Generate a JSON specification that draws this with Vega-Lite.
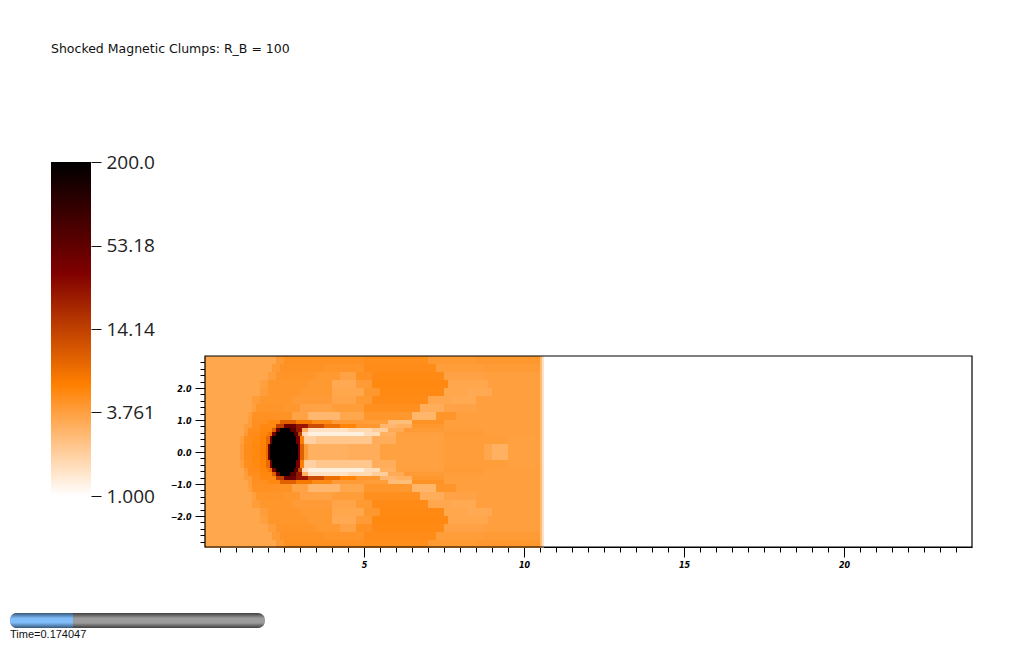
{"$schema":"https://vega.github.io/schema/vega-lite/v6.json","width":1024,"height":645,"padding":0,"autosize":{"type":"none"},"background":"white","config":{"view":{"stroke":null}},
"title":{"text":"Shocked Magnetic Clumps: R_B = 100","anchor":"start","frame":"group","orient":"top","offset":0,"baseline":"middle","dx":51,"dy":61,"font":"DejaVu Sans","fontSize":12.5,"fontWeight":"normal","color":"#111"},
"datasets":{"cells":[
{"x":0.03125,"x2":1.125,"y":0,"y2":0.25,"v":3.4},{"x":1.125,"x2":1.25,"y":0,"y2":0.25,"v":4},{"x":1.25,"x2":1.5,"y":0,"y2":0.25,"v":4.9},{"x":1.5,"x2":1.75,"y":0,"y2":0.25,"v":5.2},{"x":1.75,"x2":1.9375,"y":0,"y2":0.25,"v":5.7},{"x":1.9375,"x2":2,"y":0,"y2":0.25,"v":8},{"x":2,"x2":2.0625,"y":0,"y2":0.25,"v":40},{"x":2.0625,"x2":2.9375,"y":0,"y2":0.25,"v":200},{"x":2.9375,"x2":3,"y":0,"y2":0.25,"v":40},{"x":3,"x2":3.125,"y":0,"y2":0.25,"v":9},{"x":3.125,"x2":3.25,"y":0,"y2":0.25,"v":4},{"x":3.25,"x2":4.5,"y":0,"y2":0.25,"v":3},{"x":4.5,"x2":5.5,"y":0,"y2":0.25,"v":3.1},{"x":5.5,"x2":7.5,"y":0,"y2":0.25,"v":3.7},{"x":7.5,"x2":8.75,"y":0,"y2":0.25,"v":3.9},{"x":8.75,"x2":9,"y":0,"y2":0.25,"v":3.4},{"x":9,"x2":9.5,"y":0,"y2":0.25,"v":3},{"x":9.5,"x2":10.5,"y":0,"y2":0.25,"v":3.7},{"x":10.5,"x2":10.5625,"y":0,"y2":0.25,"v":2.6},{"x":10.5625,"x2":10.625,"y":0,"y2":0.25,"v":1.5},
{"x":0.03125,"x2":1.125,"y":0.25,"y2":0.5,"v":3.4},{"x":1.125,"x2":1.25,"y":0.25,"y2":0.5,"v":3.8},{"x":1.25,"x2":1.5,"y":0.25,"y2":0.5,"v":4.8},{"x":1.5,"x2":1.75,"y":0.25,"y2":0.5,"v":5.1},{"x":1.75,"x2":1.9375,"y":0.25,"y2":0.5,"v":5.6},{"x":1.9375,"x2":2.0625,"y":0.25,"y2":0.5,"v":8},{"x":2.0625,"x2":2.125,"y":0.25,"y2":0.5,"v":40},{"x":2.125,"x2":2.875,"y":0.25,"y2":0.5,"v":200},{"x":2.875,"x2":3,"y":0.25,"y2":0.5,"v":40},{"x":3,"x2":3.125,"y":0.25,"y2":0.5,"v":6},{"x":3.125,"x2":3.5,"y":0.25,"y2":0.5,"v":1.9},{"x":3.5,"x2":5.25,"y":0.25,"y2":0.5,"v":2.2},{"x":5.25,"x2":6,"y":0.25,"y2":0.5,"v":3.1},{"x":6,"x2":7.5,"y":0.25,"y2":0.5,"v":3.7},{"x":7.5,"x2":9.5,"y":0.25,"y2":0.5,"v":3.9},{"x":9.5,"x2":10.5,"y":0.25,"y2":0.5,"v":3.7},{"x":10.5,"x2":10.5625,"y":0.25,"y2":0.5,"v":2.6},{"x":10.5625,"x2":10.625,"y":0.25,"y2":0.5,"v":1.5},
{"x":0.03125,"x2":1.25,"y":0.5,"y2":0.625,"v":3.4},{"x":1.25,"x2":1.375,"y":0.5,"y2":0.625,"v":4},{"x":1.375,"x2":1.75,"y":0.5,"y2":0.625,"v":4.9},{"x":1.75,"x2":2,"y":0.5,"y2":0.625,"v":5.4},{"x":2,"x2":2.125,"y":0.5,"y2":0.625,"v":7},{"x":2.125,"x2":2.25,"y":0.5,"y2":0.625,"v":40},{"x":2.25,"x2":2.8125,"y":0.5,"y2":0.625,"v":200},{"x":2.8125,"x2":2.9375,"y":0.5,"y2":0.625,"v":60},{"x":2.9375,"x2":3.0625,"y":0.5,"y2":0.625,"v":14},{"x":3.0625,"x2":3.25,"y":0.5,"y2":0.625,"v":1.6},{"x":3.25,"x2":5,"y":0.5,"y2":0.625,"v":1.25},{"x":5,"x2":5.5,"y":0.5,"y2":0.625,"v":1.6},{"x":5.5,"x2":6,"y":0.5,"y2":0.625,"v":3},{"x":6,"x2":7.5,"y":0.5,"y2":0.625,"v":3.8},{"x":7.5,"x2":8.75,"y":0.5,"y2":0.625,"v":4},{"x":8.75,"x2":10.5,"y":0.5,"y2":0.625,"v":3.8},{"x":10.5,"x2":10.5625,"y":0.5,"y2":0.625,"v":2.6},{"x":10.5625,"x2":10.625,"y":0.5,"y2":0.625,"v":1.5},
{"x":0.03125,"x2":1.25,"y":0.625,"y2":0.75,"v":3.4},{"x":1.25,"x2":1.375,"y":0.625,"y2":0.75,"v":3.9},{"x":1.375,"x2":1.75,"y":0.625,"y2":0.75,"v":4.8},{"x":1.75,"x2":2.125,"y":0.625,"y2":0.75,"v":5.3},{"x":2.125,"x2":2.25,"y":0.625,"y2":0.75,"v":9},{"x":2.25,"x2":2.375,"y":0.625,"y2":0.75,"v":50},{"x":2.375,"x2":2.6875,"y":0.625,"y2":0.75,"v":200},{"x":2.6875,"x2":2.875,"y":0.625,"y2":0.75,"v":60},{"x":2.875,"x2":3.0625,"y":0.625,"y2":0.75,"v":25},{"x":3.0625,"x2":3.25,"y":0.625,"y2":0.75,"v":3},{"x":3.25,"x2":4.5,"y":0.625,"y2":0.75,"v":1.5},{"x":4.5,"x2":5.25,"y":0.625,"y2":0.75,"v":1.7},{"x":5.25,"x2":5.75,"y":0.625,"y2":0.75,"v":2},{"x":5.75,"x2":6.25,"y":0.625,"y2":0.75,"v":3.2},{"x":6.25,"x2":7.5,"y":0.625,"y2":0.75,"v":4},{"x":7.5,"x2":8.75,"y":0.625,"y2":0.75,"v":3.9},{"x":8.75,"x2":10.5,"y":0.625,"y2":0.75,"v":3.8},{"x":10.5,"x2":10.5625,"y":0.625,"y2":0.75,"v":2.6},{"x":10.5625,"x2":10.625,"y":0.625,"y2":0.75,"v":1.5},
{"x":0.03125,"x2":1.25,"y":0.75,"y2":0.875,"v":3.4},{"x":1.25,"x2":1.5,"y":0.75,"y2":0.875,"v":3.9},{"x":1.5,"x2":1.75,"y":0.75,"y2":0.875,"v":4.7},{"x":1.75,"x2":2.25,"y":0.75,"y2":0.875,"v":5.2},{"x":2.25,"x2":2.5,"y":0.75,"y2":0.875,"v":14},{"x":2.5,"x2":2.875,"y":0.75,"y2":0.875,"v":45},{"x":2.875,"x2":3.25,"y":0.75,"y2":0.875,"v":25},{"x":3.25,"x2":3.75,"y":0.75,"y2":0.875,"v":12},{"x":3.75,"x2":4.25,"y":0.75,"y2":0.875,"v":7.5},{"x":4.25,"x2":4.75,"y":0.75,"y2":0.875,"v":5.6},{"x":4.75,"x2":5.5,"y":0.75,"y2":0.875,"v":4.2},{"x":5.5,"x2":6,"y":0.75,"y2":0.875,"v":2.7},{"x":6,"x2":6.5,"y":0.75,"y2":0.875,"v":3},{"x":6.5,"x2":7.5,"y":0.75,"y2":0.875,"v":4.2},{"x":7.5,"x2":10.5,"y":0.75,"y2":0.875,"v":3.8},{"x":10.5,"x2":10.5625,"y":0.75,"y2":0.875,"v":2.6},{"x":10.5625,"x2":10.625,"y":0.75,"y2":0.875,"v":1.5},
{"x":0.03125,"x2":1.375,"y":0.875,"y2":1,"v":3.4},{"x":1.375,"x2":1.5,"y":0.875,"y2":1,"v":3.9},{"x":1.5,"x2":2,"y":0.875,"y2":1,"v":4.7},{"x":2,"x2":2.375,"y":0.875,"y2":1,"v":5.2},{"x":2.375,"x2":2.875,"y":0.875,"y2":1,"v":9},{"x":2.875,"x2":3.375,"y":0.875,"y2":1,"v":6.5},{"x":3.375,"x2":4,"y":0.875,"y2":1,"v":5},{"x":4,"x2":5,"y":0.875,"y2":1,"v":4},{"x":5,"x2":5.75,"y":0.875,"y2":1,"v":3.9},{"x":5.75,"x2":6.5,"y":0.875,"y2":1,"v":2.5},{"x":6.5,"x2":7.5,"y":0.875,"y2":1,"v":4.5},{"x":7.5,"x2":10.5,"y":0.875,"y2":1,"v":3.8},{"x":10.5,"x2":10.5625,"y":0.875,"y2":1,"v":2.6},{"x":10.5625,"x2":10.625,"y":0.875,"y2":1,"v":1.5},
{"x":0.03125,"x2":1.375,"y":1,"y2":1.25,"v":3.4},{"x":1.375,"x2":1.5,"y":1,"y2":1.25,"v":3.8},{"x":1.5,"x2":2.25,"y":1,"y2":1.25,"v":4.6},{"x":2.25,"x2":2.75,"y":1,"y2":1.25,"v":4.5},{"x":2.75,"x2":3.25,"y":1,"y2":1.25,"v":3.6},{"x":3.25,"x2":4.25,"y":1,"y2":1.25,"v":2.7},{"x":4.25,"x2":5,"y":1,"y2":1.25,"v":3.4},{"x":5,"x2":6,"y":1,"y2":1.25,"v":4.3},{"x":6,"x2":6.5,"y":1,"y2":1.25,"v":4.2},{"x":6.5,"x2":7.25,"y":1,"y2":1.25,"v":2.8},{"x":7.25,"x2":7.875,"y":1,"y2":1.25,"v":4.4},{"x":7.875,"x2":10.5,"y":1,"y2":1.25,"v":3.8},{"x":10.5,"x2":10.5625,"y":1,"y2":1.25,"v":2.6},{"x":10.5625,"x2":10.625,"y":1,"y2":1.25,"v":1.5},
{"x":0.03125,"x2":1.5,"y":1.25,"y2":1.5,"v":3.4},{"x":1.5,"x2":1.625,"y":1.25,"y2":1.5,"v":3.8},{"x":1.625,"x2":2.5,"y":1.25,"y2":1.5,"v":4.4},{"x":2.5,"x2":3,"y":1.25,"y2":1.5,"v":4.2},{"x":3,"x2":4,"y":1.25,"y2":1.5,"v":3.6},{"x":4,"x2":5,"y":1.25,"y2":1.5,"v":3.9},{"x":5,"x2":6.75,"y":1.25,"y2":1.5,"v":4.7},{"x":6.75,"x2":7.5,"y":1.25,"y2":1.5,"v":3.1},{"x":7.5,"x2":8.5,"y":1.25,"y2":1.5,"v":3.6},{"x":8.5,"x2":10.5,"y":1.25,"y2":1.5,"v":3.8},{"x":10.5,"x2":10.5625,"y":1.25,"y2":1.5,"v":2.6},{"x":10.5625,"x2":10.625,"y":1.25,"y2":1.5,"v":1.5},
{"x":0.03125,"x2":1.5,"y":1.5,"y2":1.75,"v":3.4},{"x":1.5,"x2":1.75,"y":1.5,"y2":1.75,"v":3.9},{"x":1.75,"x2":2.75,"y":1.5,"y2":1.75,"v":4.3},{"x":2.75,"x2":4,"y":1.5,"y2":1.75,"v":4},{"x":4,"x2":4.75,"y":1.5,"y2":1.75,"v":3.5},{"x":4.75,"x2":5.25,"y":1.5,"y2":1.75,"v":4.1},{"x":5.25,"x2":7,"y":1.5,"y2":1.75,"v":5},{"x":7,"x2":7.75,"y":1.5,"y2":1.75,"v":3.4},{"x":7.75,"x2":8.5,"y":1.5,"y2":1.75,"v":3.3},{"x":8.5,"x2":10.5,"y":1.5,"y2":1.75,"v":3.8},{"x":10.5,"x2":10.5625,"y":1.5,"y2":1.75,"v":2.6},{"x":10.5625,"x2":10.625,"y":1.5,"y2":1.75,"v":1.5},
{"x":0.03125,"x2":1.75,"y":1.75,"y2":2,"v":3.4},{"x":1.75,"x2":2,"y":1.75,"y2":2,"v":3.9},{"x":2,"x2":3,"y":1.75,"y2":2,"v":4.3},{"x":3,"x2":4,"y":1.75,"y2":2,"v":4.1},{"x":4,"x2":5,"y":1.75,"y2":2,"v":3.4},{"x":5,"x2":5.5,"y":1.75,"y2":2,"v":4.2},{"x":5.5,"x2":7.5,"y":1.75,"y2":2,"v":5.1},{"x":7.5,"x2":8.25,"y":1.75,"y2":2,"v":3.4},{"x":8.25,"x2":9,"y":1.75,"y2":2,"v":3.3},{"x":9,"x2":10.5,"y":1.75,"y2":2,"v":3.8},{"x":10.5,"x2":10.5625,"y":1.75,"y2":2,"v":2.6},{"x":10.5625,"x2":10.625,"y":1.75,"y2":2,"v":1.5},
{"x":0.03125,"x2":1.75,"y":2,"y2":2.25,"v":3.4},{"x":1.75,"x2":2,"y":2,"y2":2.25,"v":3.8},{"x":2,"x2":3.25,"y":2,"y2":2.25,"v":4.3},{"x":3.25,"x2":4,"y":2,"y2":2.25,"v":4.1},{"x":4,"x2":4.75,"y":2,"y2":2.25,"v":3.3},{"x":4.75,"x2":5.25,"y":2,"y2":2.25,"v":4},{"x":5.25,"x2":7.625,"y":2,"y2":2.25,"v":5.2},{"x":7.625,"x2":8.875,"y":2,"y2":2.25,"v":3.4},{"x":8.875,"x2":10.5,"y":2,"y2":2.25,"v":3.8},{"x":10.5,"x2":10.5625,"y":2,"y2":2.25,"v":2.6},{"x":10.5625,"x2":10.625,"y":2,"y2":2.25,"v":1.5},
{"x":0.03125,"x2":2,"y":2.25,"y2":2.5,"v":3.4},{"x":2,"x2":2.25,"y":2.25,"y2":2.5,"v":3.9},{"x":2.25,"x2":3.5,"y":2.25,"y2":2.5,"v":4.4},{"x":3.5,"x2":4.25,"y":2.25,"y2":2.5,"v":4.1},{"x":4.25,"x2":4.75,"y":2.25,"y2":2.5,"v":3.6},{"x":4.75,"x2":5.25,"y":2.25,"y2":2.5,"v":4.6},{"x":5.25,"x2":7.5,"y":2.25,"y2":2.5,"v":5.1},{"x":7.5,"x2":8.75,"y":2.25,"y2":2.5,"v":3.6},{"x":8.75,"x2":10.5,"y":2.25,"y2":2.5,"v":3.8},{"x":10.5,"x2":10.5625,"y":2.25,"y2":2.5,"v":2.6},{"x":10.5625,"x2":10.625,"y":2.25,"y2":2.5,"v":1.5},
{"x":0.03125,"x2":2.125,"y":2.5,"y2":2.75,"v":3.4},{"x":2.125,"x2":2.375,"y":2.5,"y2":2.75,"v":4},{"x":2.375,"x2":3.75,"y":2.5,"y2":2.75,"v":4.5},{"x":3.75,"x2":5,"y":2.5,"y2":2.75,"v":4.4},{"x":5,"x2":7.25,"y":2.5,"y2":2.75,"v":4.9},{"x":7.25,"x2":8.75,"y":2.5,"y2":2.75,"v":3.9},{"x":8.75,"x2":10.5,"y":2.5,"y2":2.75,"v":4},{"x":10.5,"x2":10.5625,"y":2.5,"y2":2.75,"v":2.6},{"x":10.5625,"x2":10.625,"y":2.5,"y2":2.75,"v":1.5},
{"x":0.03125,"x2":2.25,"y":2.75,"y2":3,"v":3.4},{"x":2.25,"x2":2.5,"y":2.75,"y2":3,"v":4.1},{"x":2.5,"x2":5,"y":2.75,"y2":3,"v":4.6},{"x":5,"x2":7,"y":2.75,"y2":3,"v":4.8},{"x":7,"x2":8.5,"y":2.75,"y2":3,"v":4.1},{"x":8.5,"x2":10.5,"y":2.75,"y2":3,"v":4.2},{"x":10.5,"x2":10.5625,"y":2.75,"y2":3,"v":2.6},{"x":10.5625,"x2":10.625,"y":2.75,"y2":3,"v":1.5}
]},
"layer":[
{"data":{"name":"cells"},"mark":{"type":"rect"},"encoding":{
"x":{"field":"x","type":"quantitative","scale":{"domain":[0.03125,24],"range":[205,972],"nice":false,"zero":false},"axis":{"orient":"bottom","offset":-98,"title":null,"grid":false,"values":[0.5,1,1.5,2,2.5,3,3.5,4,4.5,5,5.5,6,6.5,7,7.5,8,8.5,9,9.5,10,10.5,11,11.5,12,12.5,13,13.5,14,14.5,15,15.5,16,16.5,17,17.5,18,18.5,19,19.5,20,20.5,21,21.5,22,22.5,23,23.5],"labelExpr":"datum.value%5==0?format(datum.value,'d'):''","tickSize":{"condition":{"test":"datum.value%5==0","value":10},"value":5},"tickColor":"#000","domainColor":"#000","domainWidth":1.2,"labelFont":"DejaVu Sans","labelFontSize":8,"labelFontWeight":"bold","labelFontStyle":"italic","labelColor":"#000","labelPadding":4,"labelOverlap":false,"labelFlush":false}},
"x2":{"field":"x2"},
"y":{"field":"y","type":"quantitative","scale":{"domain":[-2.96875,3],"range":[547,356],"nice":false,"zero":false},"axis":{"orient":"left","offset":-205,"title":null,"grid":false,"values":[-3,-2.8,-2.6,-2.4,-2.2,-2,-1.8,-1.6,-1.4,-1.2,-1,-0.8,-0.6,-0.4,-0.2,0,0.2,0.4,0.6,0.8,1,1.2,1.4,1.6,1.8,2,2.2,2.4,2.6,2.8],"labelExpr":"abs(datum.value-round(datum.value))<0.01?format(datum.value,'.1f'):''","tickSize":{"condition":{"test":"abs(datum.value-round(datum.value))<0.01","value":10},"value":5},"tickColor":"#000","domainColor":"#000","domainWidth":1.2,"labelFont":"DejaVu Sans","labelFontSize":8,"labelFontWeight":"bold","labelFontStyle":"italic","labelColor":"#000","labelPadding":4,"labelOffset":1.5,"labelOverlap":false,"labelFlush":false}},
"y2":{"field":"y2"},
"color":{"field":"v","type":"quantitative","legend":null,"scale":{"type":"log","domain":[1,5.8,34.5,200],"range":["#ffffff","#ff8000","#800000","#000000"],"interpolate":"rgb"}}}},
{"data":{"name":"cells"},"mark":{"type":"rect"},"encoding":{
"x":{"field":"x","type":"quantitative","scale":{"domain":[0.03125,24],"range":[205,972],"nice":false,"zero":false},"axis":null},
"x2":{"field":"x2"},
"y":{"field":"y","type":"quantitative","scale":{"domain":[2.96875,-3],"range":[547,356],"nice":false,"zero":false},"axis":null},
"y2":{"field":"y2"},
"color":{"field":"v","type":"quantitative","legend":null}}},
{"data":{"values":[{"x":0.03125,"x2":24,"y":-2.96875,"y2":3}]},"mark":{"type":"rect","fill":null,"stroke":"#000","strokeWidth":1.2},"encoding":{
"x":{"field":"x","type":"quantitative","scale":{"domain":[0.03125,24],"range":[205,972],"nice":false,"zero":false},"axis":null},
"x2":{"field":"x2"},
"y":{"field":"y","type":"quantitative","scale":{"domain":[-2.96875,3],"range":[547,356],"nice":false,"zero":false},"axis":null},
"y2":{"field":"y2"}}},
{"data":{"values":[{"a":0,"b":1,"lo":1,"hi":200}]},"mark":{"type":"rect","color":{"gradient":"linear","x1":0,"y1":1,"x2":0,"y2":0,"stops":[{"offset":0,"color":"#ffffff"},{"offset":0.3333,"color":"#ff8000"},{"offset":0.6667,"color":"#800000"},{"offset":1,"color":"#000000"}]}},"encoding":{
"x":{"field":"a","type":"quantitative","scale":{"domain":[0,1],"range":[51,91],"nice":false,"zero":false},"axis":null},
"x2":{"field":"b"},
"y":{"field":"lo","type":"quantitative","scale":{"type":"log","domain":[1,200],"range":[496,162],"nice":false},"axis":{"orient":"right","offset":-933,"title":null,"grid":false,"domain":false,"values":[1,3.761,14.14,53.18,200],"format":".4r","tickSize":10,"tickColor":"#111","labelFont":"Open Sans","labelFontSize":19,"labelColor":"#222","labelPadding":5,"labelOverlap":false,"labelFlush":false}},
"y2":{"field":"hi"}}},
{"data":{"values":[{"t0":0,"t1":0.705,"b0":0,"b1":1}]},"mark":{"type":"rect","cornerRadius":7,"color":{"gradient":"linear","x1":0,"y1":0,"x2":0,"y2":1,"stops":[{"offset":0,"color":"#3f3f3f"},{"offset":0.35,"color":"#9c9c9c"},{"offset":0.65,"color":"#9c9c9c"},{"offset":1,"color":"#3f3f3f"}]}},"encoding":{
"x":{"field":"t0","type":"quantitative","scale":{"domain":[0,0.705],"range":[10,265],"nice":false,"zero":false},"axis":null},
"x2":{"field":"t1"},
"y":{"field":"b0","type":"quantitative","scale":{"domain":[0,1],"range":[628,613],"nice":false,"zero":false},"axis":null},
"y2":{"field":"b1"}}},
{"data":{"values":[{"t0":0,"t1":0.174047,"b0":0,"b1":1}]},"mark":{"type":"rect","cornerRadiusTopLeft":7,"cornerRadiusBottomLeft":7,"color":{"gradient":"linear","x1":0,"y1":0,"x2":0,"y2":1,"stops":[{"offset":0,"color":"#35587a"},{"offset":0.35,"color":"#80bcf8"},{"offset":0.65,"color":"#80bcf8"},{"offset":1,"color":"#35587a"}]}},"encoding":{
"x":{"field":"t0","type":"quantitative","scale":{"domain":[0,0.705],"range":[10,265],"nice":false,"zero":false},"axis":null},
"x2":{"field":"t1"},
"y":{"field":"b0","type":"quantitative","scale":{"domain":[0,1],"range":[628,613],"nice":false,"zero":false},"axis":null},
"y2":{"field":"b1"}}},
{"data":{"values":[{"t0":0,"b0":-0.45,"label":"Time=0.174047"}]},"mark":{"type":"text","align":"left","baseline":"middle","font":"Liberation Sans","fontSize":11,"color":"#111"},"encoding":{
"x":{"field":"t0","type":"quantitative","scale":{"domain":[0,0.705],"range":[10,265],"nice":false,"zero":false},"axis":null},
"y":{"field":"b0","type":"quantitative","scale":{"domain":[0,1],"range":[628,613],"nice":false,"zero":false},"axis":null},
"text":{"field":"label"}}}
],
"resolve":{"scale":{"x":"independent","y":"independent"}}}
